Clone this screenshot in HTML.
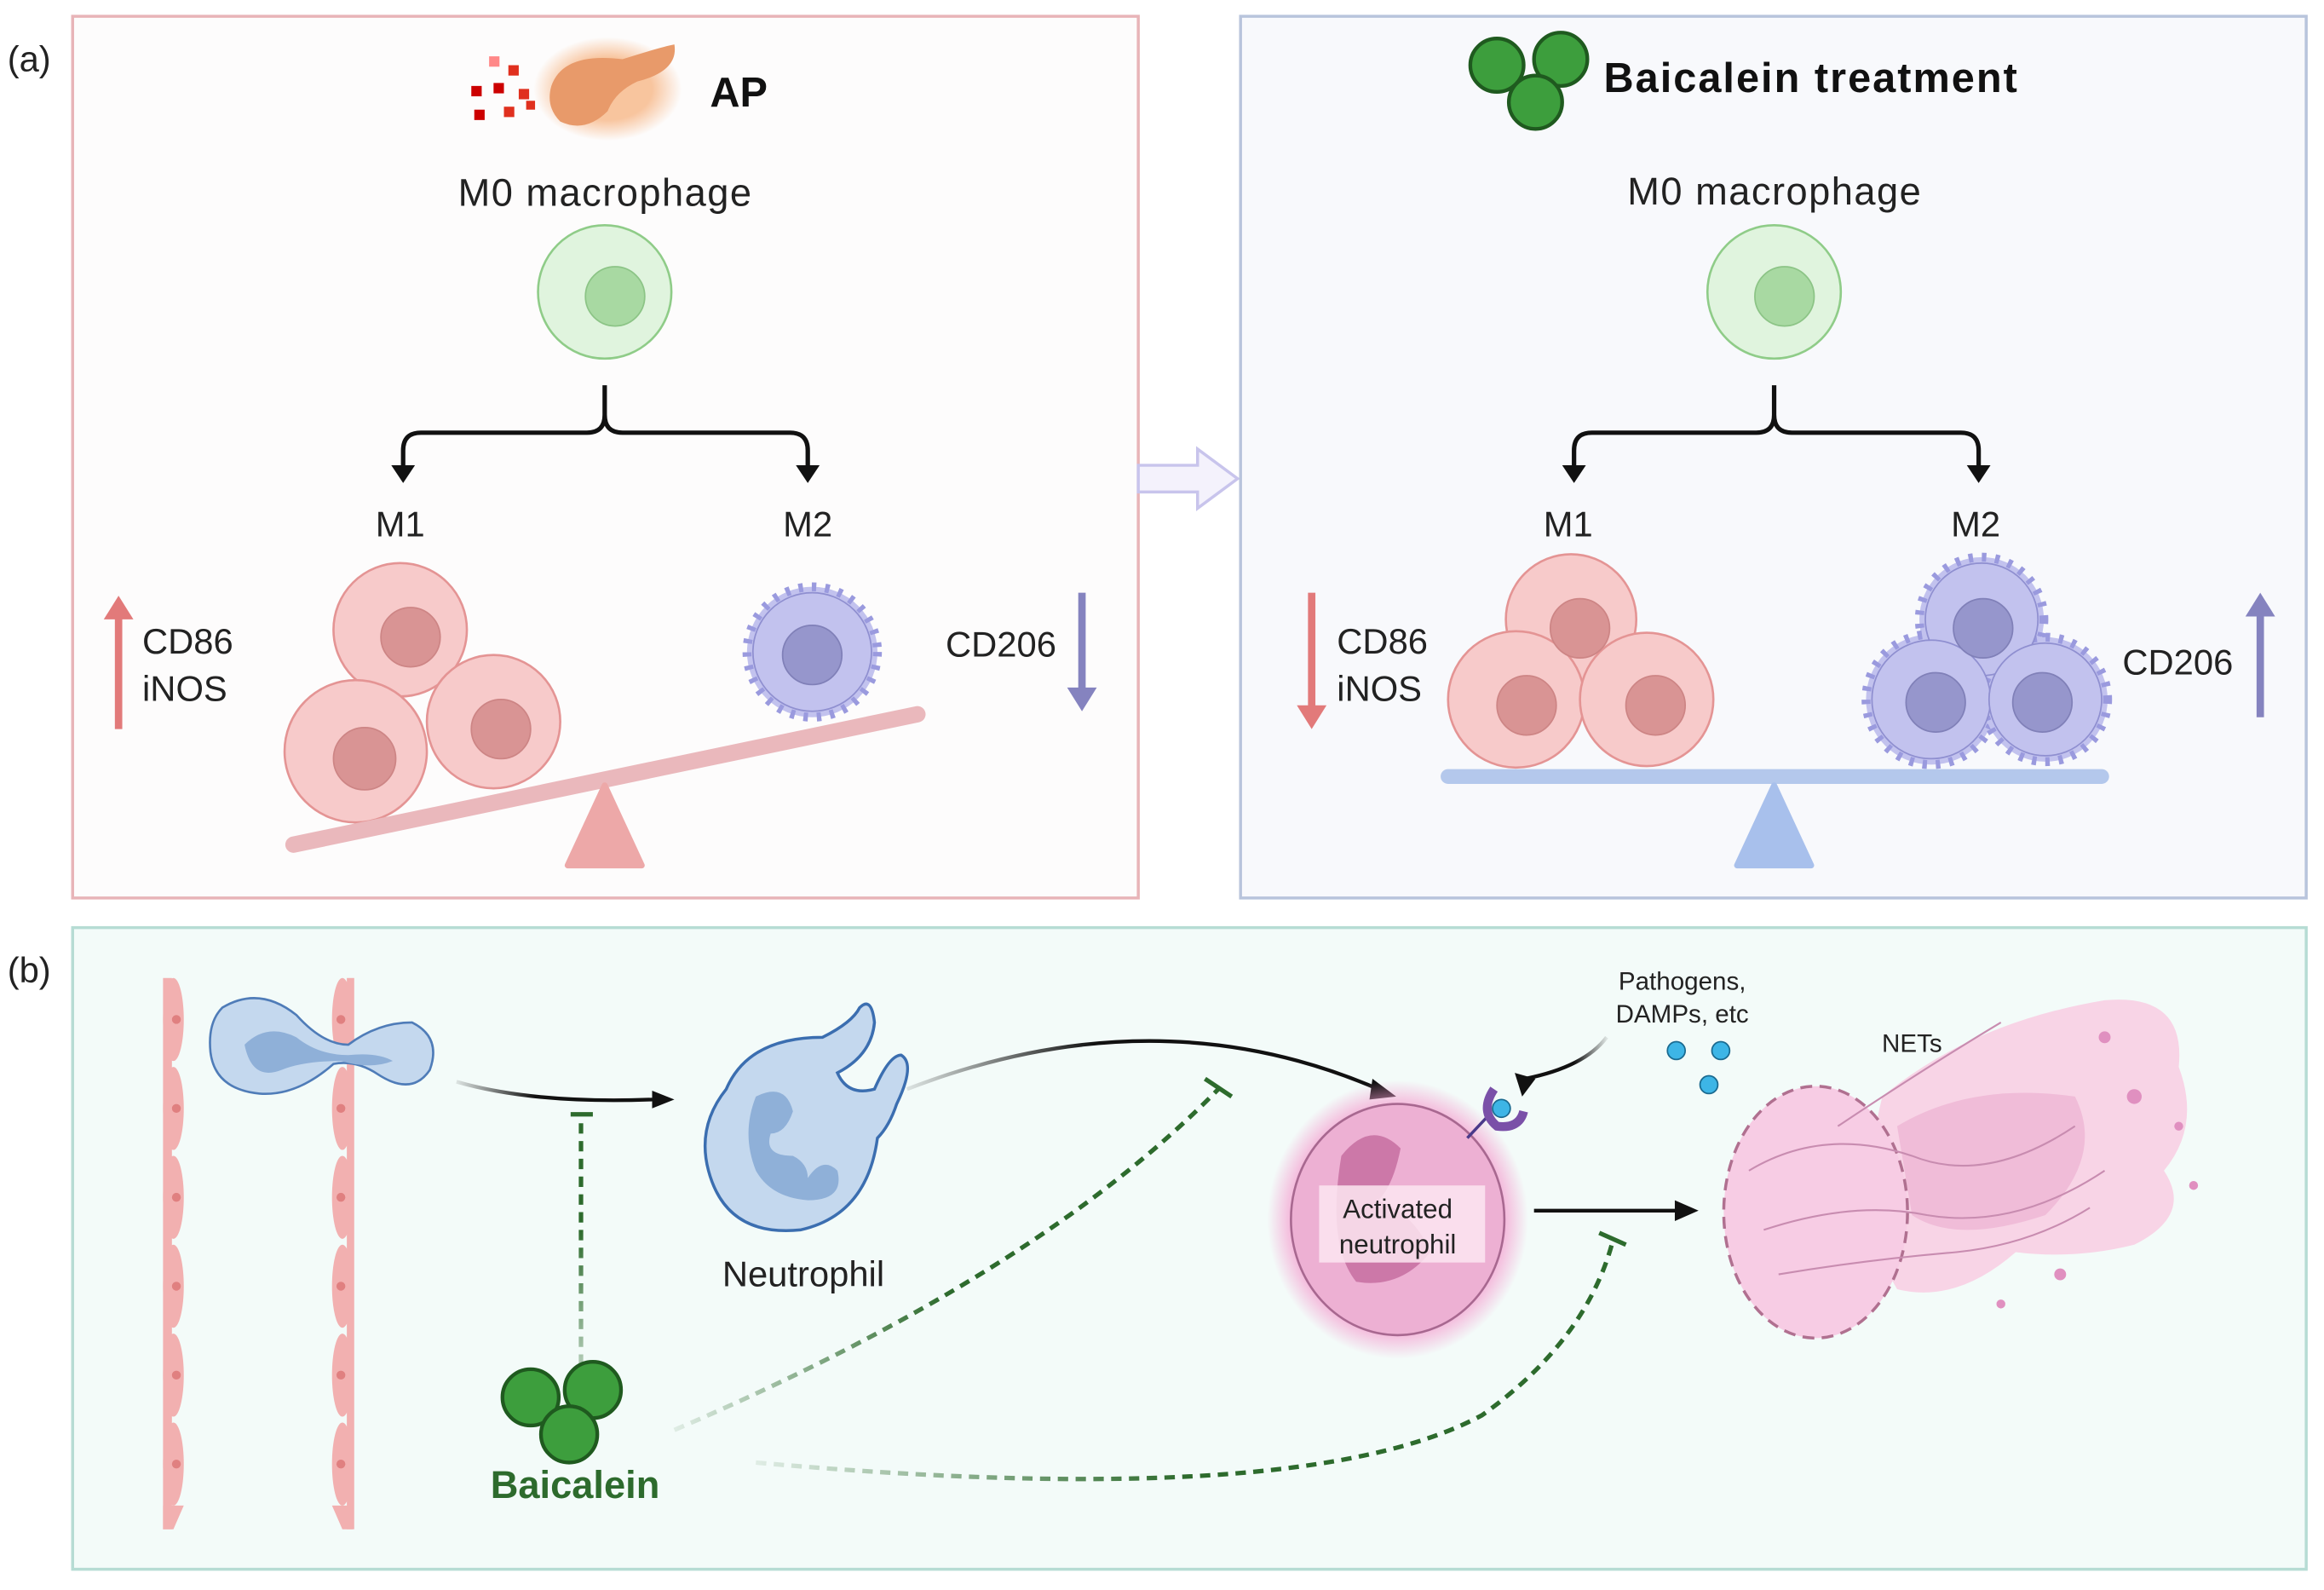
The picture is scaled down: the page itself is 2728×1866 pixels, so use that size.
<!DOCTYPE html>
<html><head><meta charset="utf-8"><style>html,body{margin:0;padding:0;background:#fff}svg{display:block}text{font-family:"Liberation Sans",sans-serif}</style></head><body>
<svg width="2728" height="1866" viewBox="0 0 1568 1073" preserveAspectRatio="none" xmlns="http://www.w3.org/2000/svg">
<defs>
<radialGradient id="glow"><stop offset="0.8" stop-color="#f4a0d0" stop-opacity="0.8"/><stop offset="1" stop-color="#f4a0d0" stop-opacity="0"/></radialGradient>
<radialGradient id="org"><stop offset="0.6" stop-color="#f5a060" stop-opacity="0.6"/><stop offset="1" stop-color="#f5a060" stop-opacity="0"/></radialGradient>
<linearGradient id="fadeg" x1="0" x2="1"><stop offset="0" stop-color="#2d6b2d" stop-opacity="0.1"/><stop offset="0.5" stop-color="#2d6b2d" stop-opacity="1"/></linearGradient>
<linearGradient id="fadev" gradientUnits="userSpaceOnUse" x1="0" y1="945" x2="0" y2="752"><stop offset="0" stop-color="#2d6b2d" stop-opacity="0.15"/><stop offset="0.6" stop-color="#2d6b2d" stop-opacity="1"/></linearGradient>
<linearGradient id="fadek" x1="0" x2="1"><stop offset="0" stop-color="#111" stop-opacity="0.1"/><stop offset="0.4" stop-color="#111" stop-opacity="1"/></linearGradient>
</defs>
<rect width="1568" height="1073" fill="#fff"/>
<text x="5" y="48" font-size="24" fill="#222">(a)</text>
<text x="5" y="663" font-size="24" fill="#222">(b)</text>

<!-- left panel -->
<rect x="49" y="11" width="719" height="595" fill="#fdfcfc" stroke="#e8b4b8" stroke-width="2"/>
<g fill="#e0301e"><rect x="330" y="38" width="7" height="7" fill="#f88"/><rect x="343" y="44" width="7" height="7"/><rect x="318" y="58" width="7" height="7" fill="#c00"/><rect x="333" y="56" width="7" height="7" fill="#c00"/><rect x="350" y="60" width="7" height="7"/><rect x="320" y="74" width="7" height="7" fill="#c00"/><rect x="340" y="72" width="7" height="7"/><rect x="355" y="68" width="6" height="6"/></g>
<ellipse cx="410" cy="60" rx="50" ry="35" fill="url(#org)"/>
<path d="M372,58 Q380,35 420,40 Q445,32 455,30 Q458,48 430,55 Q415,62 410,75 Q395,90 378,82 Q368,72 372,58z" fill="#e89a6a"/>
<text x="479" y="72" font-size="28" font-weight="bold" fill="#111">AP</text>
<text x="408" y="139" font-size="26" text-anchor="middle" fill="#222" textLength="198">M0 macrophage</text>
<circle cx="408" cy="197" r="45" fill="#e0f4de" stroke="#8fcc88" stroke-width="1.5"/><circle cx="415" cy="200" r="20" fill="#a8d9a2" stroke="#8cc486"/>
<path d="M408,260 L408,280 Q408,292 396,292 L284,292 Q272,292 272,304 L272,318 M408,280 Q408,292 420,292 L533,292 Q545,292 545,304 L545,318" fill="none" stroke="#111" stroke-width="3"/>
<path d="M264,314 L280,314 L272,326z M537,314 L553,314 L545,326z" fill="#111"/>
<text x="270" y="362" font-size="24" text-anchor="middle" fill="#222">M1</text>
<text x="545" y="362" font-size="24" text-anchor="middle" fill="#222">M2</text>
<g fill="#f7caca" stroke="#e49494" stroke-width="1.5"><circle cx="270" cy="425" r="45"/><circle cx="240" cy="507" r="48"/><circle cx="333" cy="487" r="45"/></g>
<g fill="#d99494" stroke="#cd8585"><circle cx="277" cy="430" r="20"/><circle cx="246" cy="512" r="21"/><circle cx="338" cy="492" r="20"/></g>
<circle cx="548" cy="440" r="44" fill="#c2c2ee" stroke="#9a9ade" stroke-width="6" stroke-dasharray="3 6"/>
<circle cx="548" cy="440" r="40" fill="#c2c2ee" stroke="#8f8fd0"/><circle cx="548" cy="442" r="20" fill="#9696cc" stroke="#8080b8"/>
<line x1="198" y1="570" x2="619" y2="482" stroke="#eab8bc" stroke-width="11" stroke-linecap="round"/>
<path d="M408,530 L383,584 L433,584z" fill="#eda8a8" stroke="#eda8a8" stroke-width="4" stroke-linejoin="round"/>
<line x1="80" y1="492" x2="80" y2="415" stroke="#e27a7a" stroke-width="5"/><path d="M70,418 L90,418 L80,402z" fill="#e27a7a"/>
<text x="96" y="441" font-size="24" fill="#222">CD86</text><text x="96" y="473" font-size="24" fill="#222">iNOS</text>
<text x="638" y="443" font-size="24" fill="#222">CD206</text>
<line x1="730" y1="400" x2="730" y2="466" stroke="#8583bf" stroke-width="5"/><path d="M720,464 L740,464 L730,480z" fill="#8583bf"/>

<!-- middle arrow -->
<path d="M768,314 L808,314 L808,303 L835,323 L808,343 L808,332 L768,332z" fill="#f4f2fc" stroke="#c8c4ec" stroke-width="2"/>

<!-- right panel -->
<rect x="837" y="11" width="719" height="595" fill="#f8f9fc" stroke="#b8c4dc" stroke-width="2"/>
<g fill="#3d9e3d" stroke="#1f5a1f" stroke-width="2.5"><circle cx="1010" cy="44" r="18"/><circle cx="1053" cy="40" r="18"/><circle cx="1036" cy="69" r="18"/></g>
<text x="1082" y="62" font-size="28" font-weight="bold" fill="#111" textLength="279">Baicalein treatment</text>
<text x="1197" y="138" font-size="26" text-anchor="middle" fill="#222" textLength="198">M0 macrophage</text>
<circle cx="1197" cy="197" r="45" fill="#e0f4de" stroke="#8fcc88" stroke-width="1.5"/><circle cx="1204" cy="200" r="20" fill="#a8d9a2" stroke="#8cc486"/>
<path d="M1197,260 L1197,280 Q1197,292 1185,292 L1074,292 Q1062,292 1062,304 L1062,318 M1197,280 Q1197,292 1209,292 L1323,292 Q1335,292 1335,304 L1335,318" fill="none" stroke="#111" stroke-width="3"/>
<path d="M1054,314 L1070,314 L1062,326z M1327,314 L1343,314 L1335,326z" fill="#111"/>
<text x="1058" y="362" font-size="24" text-anchor="middle" fill="#222">M1</text>
<text x="1333" y="362" font-size="24" text-anchor="middle" fill="#222">M2</text>
<g fill="#f7caca" stroke="#e49494" stroke-width="1.5"><circle cx="1060" cy="418" r="44"/><circle cx="1023" cy="472" r="46"/><circle cx="1111" cy="472" r="45"/></g>
<g fill="#d99494" stroke="#cd8585"><circle cx="1066" cy="424" r="20"/><circle cx="1030" cy="476" r="20"/><circle cx="1117" cy="476" r="20"/></g>
<g fill="#c2c2ee" stroke="#9a9ade" stroke-width="6" stroke-dasharray="3 6"><circle cx="1337" cy="418" r="42"/><circle cx="1303" cy="472" r="44"/><circle cx="1380" cy="472" r="42"/></g>
<g fill="#c2c2ee" stroke="#8f8fd0"><circle cx="1337" cy="418" r="38"/><circle cx="1303" cy="472" r="40"/><circle cx="1380" cy="472" r="38"/></g>
<g fill="#9696cc" stroke="#8080b8"><circle cx="1338" cy="424" r="20"/><circle cx="1306" cy="474" r="20"/><circle cx="1378" cy="474" r="20"/></g>
<line x1="977" y1="524" x2="1418" y2="524" stroke="#b4c8ec" stroke-width="10" stroke-linecap="round"/>
<path d="M1197,530 L1172,584 L1222,584z" fill="#a8c0ec" stroke="#a8c0ec" stroke-width="4" stroke-linejoin="round"/>
<line x1="885" y1="400" x2="885" y2="478" stroke="#e27a7a" stroke-width="5"/><path d="M875,476 L895,476 L885,492z" fill="#e27a7a"/>
<text x="902" y="441" font-size="24" fill="#222">CD86</text><text x="902" y="473" font-size="24" fill="#222">iNOS</text>
<text x="1432" y="455" font-size="24" fill="#222">CD206</text>
<line x1="1525" y1="484" x2="1525" y2="414" stroke="#8583bf" stroke-width="5"/><path d="M1515,416 L1535,416 L1525,400z" fill="#8583bf"/>

<!-- panel b -->
<rect x="49" y="626" width="1507" height="433" fill="#f3fbf9" stroke="#b6dcd4" stroke-width="2"/>
<g fill="#f2b0b0">
<ellipse cx="117" cy="688" rx="7" ry="28"/><ellipse cx="117" cy="748" rx="7" ry="28"/><ellipse cx="117" cy="808" rx="7" ry="28"/><ellipse cx="117" cy="868" rx="7" ry="28"/><ellipse cx="117" cy="928" rx="7" ry="28"/><ellipse cx="117" cy="988" rx="7" ry="28"/>
<ellipse cx="231" cy="688" rx="7" ry="28"/><ellipse cx="231" cy="748" rx="7" ry="28"/><ellipse cx="231" cy="808" rx="7" ry="28"/><ellipse cx="231" cy="868" rx="7" ry="28"/><ellipse cx="231" cy="928" rx="7" ry="28"/><ellipse cx="231" cy="988" rx="7" ry="28"/>
<rect x="110" y="660" width="6" height="372"/><rect x="234" y="660" width="5" height="372"/>
<path d="M110,1016 L124,1016 L117,1032 L110,1032z M224,1016 L238,1016 L238,1032 L231,1032z"/>
</g>
<g fill="#e08080"><circle cx="119" cy="688" r="3"/><circle cx="119" cy="748" r="3"/><circle cx="119" cy="808" r="3"/><circle cx="119" cy="868" r="3"/><circle cx="119" cy="928" r="3"/><circle cx="119" cy="988" r="3"/><circle cx="230" cy="688" r="3"/><circle cx="230" cy="748" r="3"/><circle cx="230" cy="808" r="3"/><circle cx="230" cy="868" r="3"/><circle cx="230" cy="928" r="3"/><circle cx="230" cy="988" r="3"/></g>
<path d="M150,680 Q175,665 200,685 Q218,705 235,705 Q255,690 278,690 Q298,700 290,722 Q278,740 255,725 Q240,715 225,718 Q200,740 175,738 Q145,735 142,710 Q140,690 150,680z" fill="#c4d8ee" stroke="#4f7cb8" stroke-width="1.5"/>
<path d="M165,705 Q180,690 200,700 Q215,712 235,712 Q255,710 265,716 Q250,722 230,716 Q205,716 190,722 Q170,730 165,705z" fill="#8fb0d8"/>
<path d="M308,730 Q360,745 440,742" fill="none" stroke="url(#fadek)" stroke-width="2.5"/>
<path d="M440,736 L455,742 L440,748z" fill="#111"/>
<line x1="392" y1="945" x2="392" y2="754" stroke="url(#fadev)" stroke-width="3" stroke-dasharray="7 5"/>
<line x1="385" y1="752" x2="400" y2="752" stroke="#2d6b2d" stroke-width="3"/>
<path d="M490,735 Q505,700 555,700 Q575,690 580,680 Q588,672 590,690 Q588,712 565,724 Q572,740 590,735 Q600,712 608,712 Q618,718 605,745 Q600,760 592,768 Q585,820 540,830 Q490,835 478,790 Q470,760 490,735z" fill="#c4d8ee" stroke="#3b6eb0" stroke-width="2"/>
<path d="M510,740 Q530,730 535,750 Q530,765 520,765 Q515,780 535,780 Q545,785 545,795 Q555,780 565,790 Q570,810 545,810 Q520,808 510,790 Q500,765 510,740z" fill="#8fb0d8"/>
<text x="542" y="868" font-size="24" text-anchor="middle" fill="#222">Neutrophil</text>
<path d="M612,735 Q780,670 930,735" fill="none" stroke="url(#fadek)" stroke-width="2.5"/>
<path d="M926,728 L942,740 L924,742z" fill="#111"/>
<path d="M455,965 Q700,860 822,735" fill="none" stroke="url(#fadeg)" stroke-width="3" stroke-dasharray="7 5"/>
<line x1="813" y1="728" x2="831" y2="740" stroke="#2d6b2d" stroke-width="3"/>
<path d="M510,987 Q880,1020 1000,955 Q1070,905 1088,838" fill="none" stroke="url(#fadeg)" stroke-width="3" stroke-dasharray="7 5"/>
<line x1="1079" y1="832" x2="1097" y2="840" stroke="#2d6b2d" stroke-width="3"/>
<ellipse cx="943" cy="823" rx="88" ry="94" fill="url(#glow)"/>
<ellipse cx="943" cy="823" rx="72" ry="78" fill="#edb0d3" stroke="#a86890" stroke-width="1.5"/>
<path d="M905,780 Q925,755 945,775 Q940,800 930,810 Q955,820 965,845 Q945,870 915,865 Q895,840 905,780z" fill="#cc78a8"/>
<rect x="890" y="800" width="112" height="52" fill="#fbe6f1" opacity="0.85"/>
<text x="943" y="822" font-size="18" text-anchor="middle" fill="#222">Activated</text>
<text x="943" y="846" font-size="18" text-anchor="middle" fill="#222">neutrophil</text>
<line x1="990" y1="768" x2="1005" y2="752" stroke="#4a3a8a" stroke-width="2"/>
<path d="M1008,735 Q998,750 1010,760 Q1025,762 1028,750" fill="none" stroke="#7a50a8" stroke-width="6"/>
<circle cx="1013" cy="748" r="6" fill="#3db5e6" stroke="#1a6a90"/>
<text x="1135" y="668" font-size="17" text-anchor="middle" fill="#222">Pathogens,</text>
<text x="1135" y="690" font-size="17" text-anchor="middle" fill="#222">DAMPs, etc</text>
<g fill="#3db5e6" stroke="#1a6a90"><circle cx="1131" cy="709" r="6"/><circle cx="1161" cy="709" r="6"/><circle cx="1153" cy="732" r="6"/></g>
<path d="M1085,700 Q1045,708 1030,728" fill="none" stroke="url(#fadek)" stroke-width="2.5" transform="rotate(180 1057 714)"/>
<path d="M1022,724 L1036,728 L1027,740z" fill="#111"/>
<line x1="1035" y1="817" x2="1132" y2="817" stroke="#111" stroke-width="2.5"/><path d="M1130,810 L1146,817 L1130,824z" fill="#111"/>
<path d="M1270,740 Q1330,690 1420,675 Q1475,670 1470,720 Q1485,760 1460,790 Q1480,820 1440,840 Q1400,850 1360,845 Q1320,880 1280,870 Q1250,820 1270,740z" fill="#f8d4e6"/>
<path d="M1280,760 Q1330,730 1400,740 Q1420,780 1380,820 Q1320,840 1290,820z" fill="#f0bcd8"/>
<ellipse cx="1225" cy="818" rx="62" ry="85" fill="#f7cce4" stroke="#b07090" stroke-width="2" stroke-dasharray="8 5"/>
<g fill="none" stroke="#c88cb0" stroke-width="1.2"><path d="M1180,790 Q1230,760 1290,780 Q1340,800 1400,760"/><path d="M1190,830 Q1250,810 1300,820 Q1360,830 1420,790"/><path d="M1200,860 Q1260,850 1320,845 Q1370,840 1410,815"/><path d="M1240,760 Q1300,720 1350,690"/></g>
<g fill="#e090c0"><circle cx="1440" cy="740" r="5"/><circle cx="1470" cy="760" r="3"/><circle cx="1390" cy="860" r="4"/><circle cx="1350" cy="880" r="3"/><circle cx="1480" cy="800" r="3"/><circle cx="1420" cy="700" r="4"/></g>
<text x="1290" y="710" font-size="17" text-anchor="middle" fill="#222">NETs</text>
<g fill="#3d9e3d" stroke="#1f5a1f" stroke-width="2.5"><circle cx="358" cy="943" r="19"/><circle cx="400" cy="938" r="19"/><circle cx="384" cy="968" r="19"/></g>
<text x="388" y="1011" font-size="26" font-weight="bold" text-anchor="middle" fill="#2d6b2d">Baicalein</text>
</svg>
</body></html>
